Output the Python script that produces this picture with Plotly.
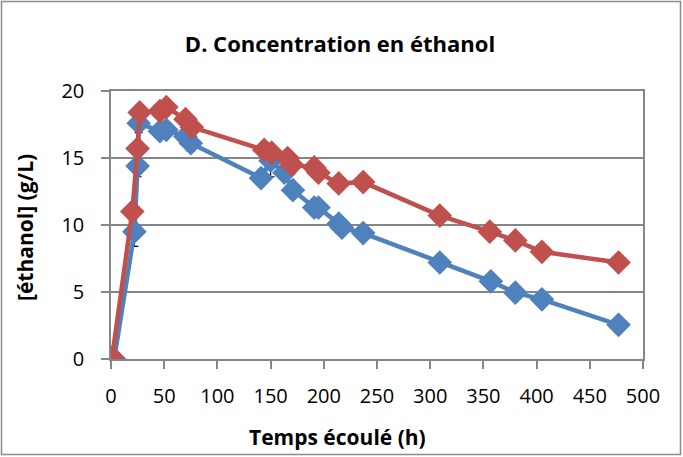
import plotly.graph_objects as go

# Elapsed time (h) and ethanol concentration (g/L) for the two cultures
t_blue = [3, 22, 25, 26, 46, 52, 70, 75, 141, 150, 163, 171, 191, 195, 214, 217, 237, 309, 357, 380, 405, 477]
c_blue = [0.0, 9.5, 14.4, 17.6, 17.0, 17.1, 16.6, 16.1, 13.5, 14.8, 13.9, 12.6, 11.3, 11.3, 10.1, 9.8, 9.4, 7.2, 5.8, 4.95, 4.45, 2.55]
err_blue = [0, 1.1, 0.8, 0.7, 0.4, 0.4, 0.6, 0.6, 0.4, 1.2, 0, 0, 0, 0, 0, 0, 0, 0, 0, 0, 0, 0]

t_red = [1, 20, 25, 27, 46, 52, 70, 76, 144, 151, 166, 170, 191, 195, 214, 237, 309, 356, 380, 405, 477]
c_red = [0.1, 11.0, 15.7, 18.4, 18.5, 18.8, 17.9, 17.3, 15.6, 15.4, 15.0, 14.5, 14.3, 13.9, 13.1, 13.2, 10.7, 9.5, 8.85, 8.0, 7.2]

x_ticks = [0, 50, 100, 150, 200, 250, 300, 350, 400, 450, 500]
y_ticks = [0, 5, 10, 15, 20]

BLUE = "#4F81BD"
RED = "#C0504D"
GRID = "#868686"
FONT = "'Open Sans', sans-serif"

fig = go.Figure()
fig.add_trace(go.Scatter(
    x=t_blue, y=c_blue, mode="lines+markers",
    line=dict(color=BLUE, width=4.5),
    marker=dict(symbol="diamond", size=19, color=BLUE),
    error_y=dict(type="data", array=err_blue, color="black", thickness=1.2, width=4),
    showlegend=False,
))
fig.add_trace(go.Scatter(
    x=t_red, y=c_red, mode="lines+markers",
    line=dict(color=RED, width=4.5),
    marker=dict(symbol="diamond", size=19, color=RED),
    showlegend=False,
))

W, H = 683, 457
L, R, T, B = 111, 40, 91, 98
pw, ph = W - L - R, H - T - B

fig.update_layout(
    width=W, height=H,
    margin=dict(l=L, r=R, t=T, b=B),
    paper_bgcolor="white", plot_bgcolor="white",
    font=dict(family=FONT, size=20, color="black"),
    title=dict(text="<b>D. Concentration en éthanol</b>", x=(340 - L) / pw, xref="paper",
               xanchor="center", y=1 - 44 / H, yanchor="middle",
               font=dict(family=FONT, size=22, color="black")),
    xaxis=dict(range=[0, 500], tickvals=x_ticks, showgrid=False, zeroline=False,
               showline=True, linecolor=GRID, linewidth=1.5, mirror=True,
               ticks="outside", ticklen=8, tickcolor=GRID, tickwidth=1.5,
               ticklabelstandoff=10, tickfont=dict(size=20)),
    yaxis=dict(range=[0, 20], tickvals=y_ticks, showgrid=True, gridcolor=GRID, gridwidth=1.5,
               zeroline=False, showline=True, linecolor=GRID, linewidth=1.5, mirror=True,
               ticks="outside", ticklen=8, tickcolor=GRID, tickwidth=1.5,
               ticklabelstandoff=13, tickfont=dict(size=20)),
    annotations=[
        dict(text="<b>Temps écoulé (h)</b>", xref="paper", yref="paper",
             x=(337 - L) / pw, y=-(437 - (T + ph)) / ph, xanchor="center", yanchor="middle",
             showarrow=False, font=dict(family=FONT, size=21)),
        dict(text="<b>[éthanol] (g/L)</b>", xref="paper", yref="paper",
             x=-(L - 25) / pw, y=(T + ph - 228) / ph, xanchor="center", yanchor="middle",
             textangle=-90, showarrow=False, font=dict(family=FONT, size=21)),
    ],
    shapes=[
        dict(type="rect", xref="paper", yref="paper",
             x0=-(L - 1.5) / pw, x1=1 + (R - 2.5) / pw,
             y0=-(B - 2.5) / ph, y1=1 + (T - 1.5) / ph,
             line=dict(color="#8C8C8C", width=1.5), layer="below"),
    ],
)

fig.write_html("out.html")
